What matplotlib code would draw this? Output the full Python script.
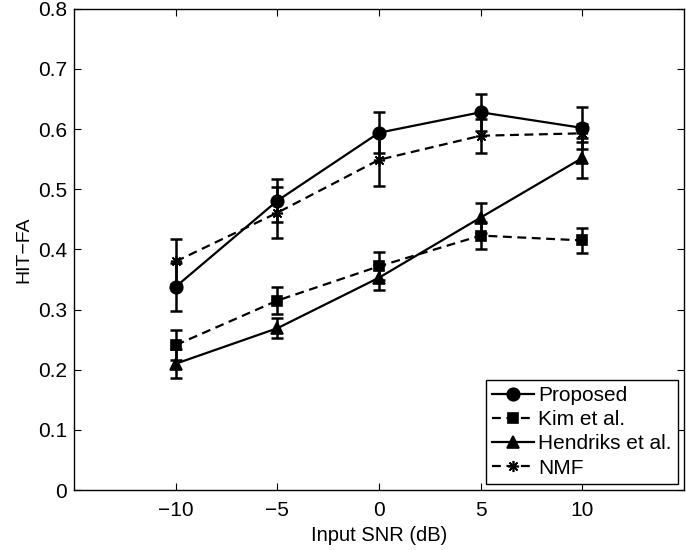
import matplotlib
matplotlib.use('Agg')
import matplotlib.pyplot as plt

plt.rcParams['font.family'] = ['Liberation Sans', 'DejaVu Sans']
plt.rcParams['font.size'] = 15

# data
snr = [-10, -5, 0, 5, 10]

proposed = [0.338, 0.481, 0.594, 0.628, 0.602]
proposed_err = [0.040, 0.036, 0.034, 0.031, 0.035]

kim = [0.241, 0.315, 0.372, 0.423, 0.415]
kim_err = [0.025, 0.022, 0.023, 0.023, 0.021]

hendriks = [0.210, 0.269, 0.353, 0.453, 0.552]
hendriks_err = [0.024, 0.017, 0.021, 0.025, 0.033]

nmf = [0.380, 0.461, 0.549, 0.589, 0.593]
nmf_err = [0.038, 0.042, 0.044, 0.028, 0.015]

series = [
    ('Proposed', proposed, proposed_err, '-', 'o', 9),
    ('Kim et al.', kim, kim_err, (0, (4, 2.5)), 's', 7),
    ('Hendriks et al.', hendriks, hendriks_err, '-', '^', 9),
    ('NMF', nmf, nmf_err, (0, (4, 2.5)), (8, 2, 0), 8),
]

fig = plt.figure(figsize=(6.86, 5.5), dpi=100)
ax = fig.add_axes([0.108, 0.109, 0.889, 0.875])

for label, vals, errs, ls, mk, ms in series:
    ax.errorbar(snr, vals, yerr=errs, fmt='none', ecolor='black',
                elinewidth=1.8, capsize=4.5, capthick=1.8)
    ax.plot(snr, vals, color='black', linestyle=ls, linewidth=1.6,
            marker=mk, markersize=ms, markerfacecolor='black',
            markeredgecolor='black', markeredgewidth=1.2, label=label)

ax.set_xlim(-15, 15)
ax.set_ylim(0, 0.8)
ax.set_xticks([-10, -5, 0, 5, 10])
ax.set_xticklabels(['\u221210', '\u22125', '0', '5', '10'])
ax.set_yticks([0, 0.1, 0.2, 0.3, 0.4, 0.5, 0.6, 0.7, 0.8])
ax.set_yticklabels(['0', '0.1', '0.2', '0.3', '0.4', '0.5', '0.6', '0.7', '0.8'])
ax.tick_params(direction='in', top=True, right=True, length=5, width=0.8, pad=5)
ax.tick_params(axis='x', pad=8)
for sp in ax.spines.values():
    sp.set_linewidth(1.0)

ax.set_xlabel('Input SNR (dB)', fontsize=14.5, labelpad=4)
ax.set_ylabel('HIT\u2212FA', fontsize=14, labelpad=4)

leg = ax.legend(loc='lower right', fancybox=False, framealpha=1,
                edgecolor='black', handlelength=2.0, labelspacing=0.25,
                borderaxespad=0.3, handletextpad=0.2, borderpad=0.3)
leg.get_frame().set_linewidth(1.0)

plt.savefig('out.png', dpi=100)
